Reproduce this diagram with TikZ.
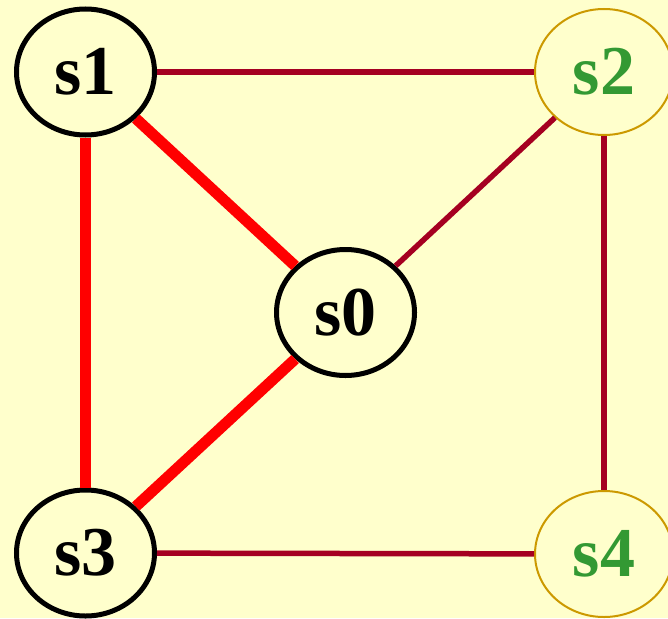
\documentclass[tikz,border=0pt]{standalone}
\usepackage{fontspec}
\setmainfont{Liberation Serif}
\usetikzlibrary{shapes.geometric}
\definecolor{bgyellow}{HTML}{FFFFCC}
\definecolor{edgered}{HTML}{A50021}
\definecolor{hotred}{HTML}{FF0000}
\definecolor{goldline}{HTML}{CC9900}
\definecolor{labelgreen}{HTML}{339933}
\tikzset{
  state/.style={ellipse, inner sep=0pt, minimum width=138pt, minimum height=126pt,
    fill=bgyellow, font=\fontsize{70}{74}\selectfont\bfseries},
  blackstate/.style={state, draw=black, line width=5pt, text=black},
  goldstate/.style={state, draw=goldline, line width=2pt, text=labelgreen},
  thinedge/.style={draw=edgered, line width=5.5pt},
  thickedge/.style={draw=hotred, line width=11pt},
}
\begin{document}
\begin{tikzpicture}[x=1pt,y=-1pt]
\fill[bgyellow] (0,0) rectangle (668,618);
\useasboundingbox (0,0) rectangle (668,618);
\node[blackstate] (s1) at (85.5,72) {s1};
\node[goldstate] (s2) at (604,72) {s2};
\node[blackstate] (s0) at (345.5,312.5) {s0};
\node[blackstate] (s3) at (85.5,553) {s3};
\node[goldstate] (s4) at (604,554) {s4};
\draw[thinedge] (s1) -- (s2);
\draw[thinedge] (s2) -- (s0);
\draw[thinedge] (s2) -- (s4);
\draw[thinedge] (s3) -- (s4);
\draw[thickedge] (s1) -- (s0);
\draw[thickedge] (s1) -- (s3);
\draw[thickedge] (s0) -- (s3);
\end{tikzpicture}
\end{document}
